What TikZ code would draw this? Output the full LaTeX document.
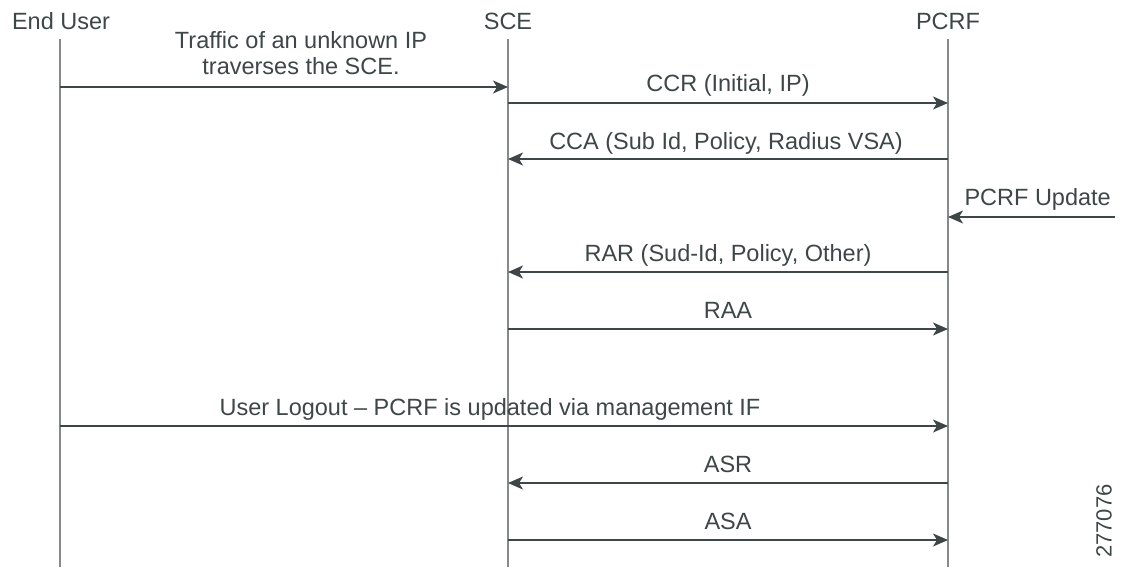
\documentclass[tikz,border=0pt]{standalone}
\usepackage{fontspec}
\setmainfont{Liberation Sans}
\usetikzlibrary{arrows.meta}
\definecolor{lifegray}{RGB}{135,138,138}
\definecolor{ink}{RGB}{62,70,72}
\newcommand{\msg}{-{Stealth[length=15pt,width=13pt,inset=4pt]}}

\begin{document}
\begin{tikzpicture}[x=1pt,y=-1pt,font=\fontsize{23.5}{26}\selectfont,text=ink,
  life/.style={lifegray,line width=1.2pt},
  arr/.style={ink,line width=1.2pt,\msg},
  lbl/.style={anchor=base,inner sep=0pt}]
\useasboundingbox (0,0) rectangle (1123,567);
%actors
\node[lbl] (eu)   at ( 61,30) {End User};
\node[lbl] (sce)  at (508,30) {SCE};
\node[lbl] (pcrf) at (948,30) {PCRF};
\coordinate (eutop)   at ( 60,39);
\coordinate (scetop)  at (508,39);
\coordinate (pcrftop) at (948,39);
\coordinate (eubot)   at ( 60,567);
\coordinate (scebot)  at (508,567);
\coordinate (pcrfbot) at (948,567);
\draw[life] (eutop) -- (eubot);
\draw[life] (scetop) -- (scebot);
\draw[life] (pcrftop) -- (pcrfbot);
%message ends
\coordinate (eu1)   at ( 60, 87);
\coordinate (sce1)  at (508, 87);
\coordinate (sce2)  at (508,103);
\coordinate (pcrf2) at (948,103);
\coordinate (pcrf3) at (948,159);
\coordinate (sce3)  at (508,159);
\coordinate (ext4)  at (1115,217);
\coordinate (pcrf4) at (948,217);
\coordinate (pcrf5) at (948,272);
\coordinate (sce5)  at (508,272);
\coordinate (sce6)  at (508,329);
\coordinate (pcrf6) at (948,329);
\coordinate (eu7)   at ( 60,426);
\coordinate (pcrf7) at (948,426);
\coordinate (pcrf8) at (948,483);
\coordinate (sce8)  at (508,483);
\coordinate (sce9)  at (508,540);
\coordinate (pcrf9) at (948,540);
%messages
\draw[arr] (eu1) -- (sce1);
\draw[arr] (sce2) -- (pcrf2);
\draw[arr] (pcrf3) -- (sce3);
\draw[arr] (ext4) -- (pcrf4);
\draw[arr] (pcrf5) -- (sce5);
\draw[arr] (sce6) -- (pcrf6);
\draw[arr] (eu7) -- (pcrf7);
\draw[arr] (pcrf8) -- (sce8);
\draw[arr] (sce9) -- (pcrf9);
%labels
\node[lbl] (m1a) at (301,49) {Traffic of an unknown IP};
\node[lbl] (m1b) at (301,75) {traverses the SCE.};
\node[lbl] (m2) at (728, 92) {CCR (Initial, IP)};
\node[lbl] (m3) at (726,149) {CCA (Sub Id, Policy, Radius VSA)};
\node[lbl,anchor=base east] (m4) at (1111,205) {PCRF Update};
\node[lbl] (m5) at (728,261) {RAR (Sud-Id, Policy, Other)};
\node[lbl] (m6) at (728,318) {RAA};
\node[lbl] (m7) at (490,415) {User Logout -- PCRF is updated via management IF};
\node[lbl] (m8) at (728,472) {ASR};
\node[lbl] (m9) at (728,529) {ASA};
\node[rotate=90,font=\fontsize{22}{26}\selectfont] (fig) at (1104,521) {277076};
\end{tikzpicture}
\end{document}
